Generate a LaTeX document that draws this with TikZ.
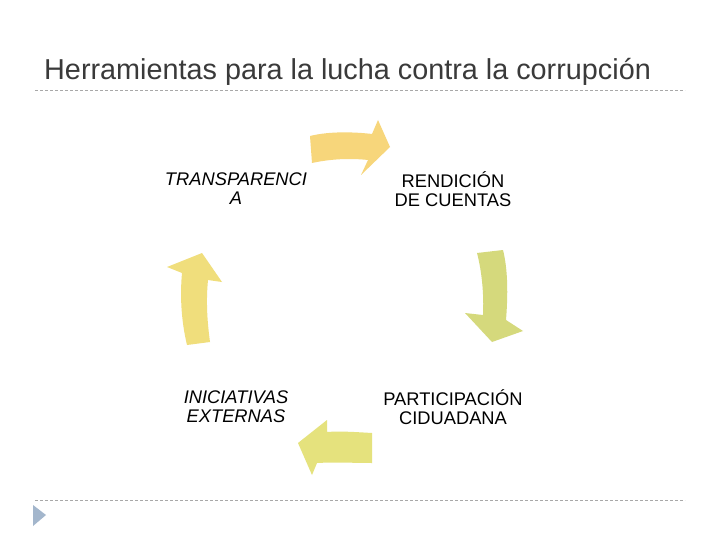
\documentclass[tikz,border=0pt]{standalone}
\usepackage{fontspec}
\setmainfont{Liberation Sans}
\definecolor{titlegray}{HTML}{3A3A3A}
\definecolor{rulegray}{HTML}{A8A8A8}
\definecolor{bulletblue}{HTML}{A3B6CC}
\definecolor{arrowtop}{HTML}{F7D67B}
\definecolor{arrowright}{HTML}{D5D97C}
\definecolor{arrowbottom}{HTML}{E5E27D}
\definecolor{arrowleft}{HTML}{F0DE7C}
\begin{document}
\begin{tikzpicture}[x=1pt, y=-1pt,
        tool/.style={align=center, font=\fontsize{18.3}{19}\selectfont},
        rule/.style={rulegray, dashed, dash pattern=on 3pt off 2pt, line width=0.8pt}]
        \fill[white] (0,0) rectangle (720,540);
        \useasboundingbox (0,0) rectangle (720,540);
        % title and rules
        \node[anchor=base west, text=titlegray, font=\fontsize{28.8}{32}\selectfont, inner sep=0pt] (title) at (44,80) {Herramientas para la lucha contra la corrupción};
        \draw[rule] (35,90) -- (685,90);
        \draw[rule] (35,500) -- (685,500);
        \fill[bulletblue] (33,505) -- (46,515) -- (33,526) -- cycle;
        % the four tools
        \node[tool] (tr) at (236,189) {\itshape TRANSPARENCI\\\itshape A};
        \node[tool] (rc) at (453,189) {RENDICIÓN\\DE CUENTAS};
        \node[tool] (ie) at (236,407) {\itshape INICIATIVAS\\\itshape EXTERNAS};
        \node[tool] (pc) at (453,407) {PARTICIPACIÓN\\CIDUADANA};
        % cycle arrows
        \fill[arrowtop] (310,136) .. controls (330,131) and (355,132) .. (372,134)
            -- (378,120) -- (390,147) -- (361,175) -- (368,160)
            .. controls (350,158) and (330,159) .. (312,163) -- cycle;
        \fill[arrowright] (477,253) -- (503,250) .. controls (508,270) and (508,295) .. (506,320)
            -- (523,331) -- (492,342) -- (465,313) -- (483,315)
            .. controls (484,295) and (482,272) .. (477,253) -- cycle;
        \fill[arrowbottom] (372,433) .. controls (355,432) and (340,431) .. (327,432)
            -- (327,420) -- (298,443) -- (312,475) -- (317,463)
            .. controls (335,462) and (355,463) .. (372,463) -- cycle;
        \fill[arrowleft] (187,345) .. controls (181,320) and (180,295) .. (182,273)
            -- (167,267) -- (202,253) -- (222,282) -- (208,280)
            .. controls (206,300) and (207,320) .. (210,342) -- cycle;
    \end{tikzpicture}
\end{document}
